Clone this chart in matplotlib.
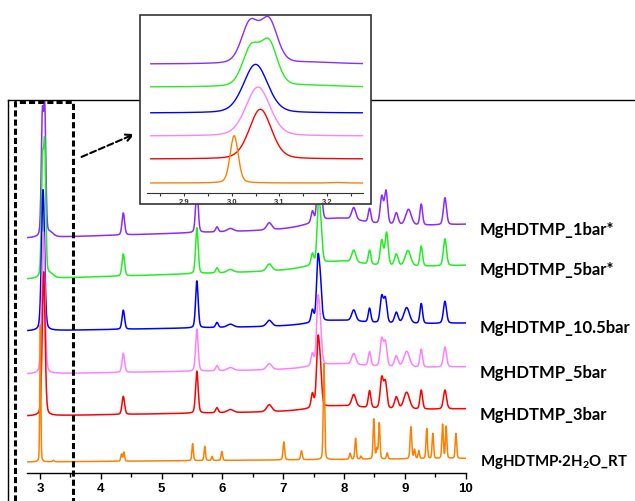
import numpy as np
import matplotlib
matplotlib.use('Agg')
import matplotlib.pyplot as plt
from matplotlib.lines import Line2D
from matplotlib.patches import Rectangle, FancyArrowPatch

# series names and colours (top to bottom)
labels = ['MgHDTMP_1bar*', 'MgHDTMP_5bar*', 'MgHDTMP_10.5bar',
          'MgHDTMP_5bar', 'MgHDTMP_3bar', 'MgHDTMP\u00b72H$_2$O_RT']
colors = ['#8A2BFF', '#22EE22', '#0000FF', '#FF80FF', '#FF0000', '#FF8000']

# vertical offset of each trace (baseline at 2.8) and baseline drift per unit
offsets = [235, 194, 142, 99, 57, 11]
slopes = [1.9, 1.9, 1.1, 1.0, 1.0, 0.5]

# peak tables: position, height, fwhm
pk_1bar_pos = [3.038, 3.078, 3.17, 4.37, 5.58, 5.91, 6.13, 6.77, 7.48, 7.58, 7.62, 7.9,
               8.16, 8.42, 8.62, 8.69, 8.86, 9.06, 9.27, 9.66]
pk_1bar_h = [115, 122, 4, 22, 46, 5, 3, 7, 11, 60, 30, 10,
             12, 14, 27, 33, 12, 16, 21, 27]
pk_1bar_w = [0.042, 0.042, 0.12, 0.05, 0.05, 0.05, 0.12, 0.1, 0.05, 0.055, 0.055, 1.0,
             0.08, 0.05, 0.06, 0.06, 0.07, 0.11, 0.05, 0.06]

pk_5bar_pos = [3.04, 3.078, 3.17, 4.37, 5.58, 5.91, 6.13, 6.77, 7.48, 7.58, 7.62, 7.9,
               8.16, 8.42, 8.62, 8.70, 8.86, 9.05, 9.27, 9.66]
pk_5bar_h = [108, 124, 4, 22, 46, 5, 3, 7, 11, 60, 30, 8,
             12, 14, 25, 33, 12, 16, 20, 27]
pk_5bar_w = [0.042, 0.042, 0.12, 0.05, 0.05, 0.05, 0.12, 0.1, 0.05, 0.055, 0.055, 1.0,
             0.08, 0.05, 0.06, 0.06, 0.07, 0.11, 0.05, 0.06]

pk_10bar_pos = [3.05, 4.37, 5.58, 5.91, 6.13, 6.77, 7.48, 7.57, 7.61, 7.9,
                8.16, 8.42, 8.62, 8.68, 8.86, 9.03, 9.27, 9.66]
pk_10bar_h = [141, 19, 47, 5, 3, 6, 12, 58, 35, 5,
              11, 14, 26, 24, 11, 16, 20, 22]
pk_10bar_w = [0.06, 0.05, 0.05, 0.05, 0.12, 0.1, 0.05, 0.055, 0.055, 1.0,
              0.08, 0.05, 0.06, 0.06, 0.07, 0.11, 0.05, 0.06]

pk_5b_pos = [3.055, 4.37, 5.58, 5.91, 6.13, 6.77, 7.48, 7.57, 7.61, 7.9,
             8.16, 8.42, 8.62, 8.68, 8.86, 9.03, 9.27, 9.66]
pk_5b_h = [142, 19, 42, 5, 3, 6, 12, 60, 35, 5,
           11, 14, 27, 24, 11, 16, 18, 20]
pk_5b_w = [0.06, 0.05, 0.05, 0.05, 0.12, 0.1, 0.05, 0.055, 0.055, 1.0,
           0.08, 0.05, 0.06, 0.06, 0.07, 0.11, 0.05, 0.06]

pk_3bar_pos = [3.06, 4.37, 5.58, 5.91, 6.13, 6.77, 7.48, 7.57, 7.61, 7.9,
               8.16, 8.42, 8.62, 8.68, 8.86, 9.03, 9.27, 9.66]
pk_3bar_h = [144, 18, 42, 5, 3, 7, 14, 62, 35, 5,
             12, 17, 30, 26, 12, 17, 19, 19]
pk_3bar_w = [0.055, 0.05, 0.05, 0.05, 0.12, 0.1, 0.05, 0.055, 0.055, 1.0,
             0.08, 0.05, 0.06, 0.06, 0.07, 0.11, 0.05, 0.06]

pk_rt_pos = [3.005, 3.22, 4.34, 4.38, 5.51, 5.71, 5.83, 5.99, 7.01, 7.30, 7.67,
             8.10, 8.19, 8.28, 8.49, 8.54, 8.58, 8.71, 9.10, 9.16, 9.23, 9.36,
             9.46, 9.62, 9.68, 9.84]
pk_rt_h = [137, 1.5, 7, 9, 17, 14, 4, 9, 18, 9, 96,
           6, 21, 3, 40, 10, 36, 6, 32, 9, 8, 30,
           25, 34, 32, 25]
pk_rt_w = [0.02, 0.03, 0.028, 0.028, 0.028, 0.028, 0.025, 0.028, 0.032, 0.032, 0.028,
           0.03, 0.028, 0.028, 0.028, 0.028, 0.028, 0.028, 0.032, 0.028, 0.028, 0.028,
           0.028, 0.028, 0.028, 0.028]

peaks = [(pk_1bar_pos, pk_1bar_h, pk_1bar_w),
         (pk_5bar_pos, pk_5bar_h, pk_5bar_w),
         (pk_10bar_pos, pk_10bar_h, pk_10bar_w),
         (pk_5b_pos, pk_5b_h, pk_5b_w),
         (pk_3bar_pos, pk_3bar_h, pk_3bar_w),
         (pk_rt_pos, pk_rt_h, pk_rt_w)]

# inset offsets
inset_offsets = [129, 106, 80, 57, 34, 10]
inset_scale = 0.345


def profile(x, pos, h, w, eta=0.25):
    y = np.zeros_like(x)
    for p, a, fw in zip(pos, h, w):
        s = fw / 2.3548
        g = np.exp(-(x - p) ** 2 / (2 * s ** 2))
        l = 1.0 / (1 + ((x - p) / (fw / 2)) ** 2)
        y += a * ((1 - eta) * g + eta * l)
    return y


plt.rcParams['font.family'] = ['Liberation Sans', 'DejaVu Sans']
plt.rcParams['mathtext.fontset'] = 'custom'
plt.rcParams['mathtext.rm'] = 'Lato:bold'
plt.rcParams['mathtext.it'] = 'Lato:bold'
plt.rcParams['mathtext.bf'] = 'Lato:bold'

fig = plt.figure(figsize=(6.35, 5.01), dpi=100)

ax = fig.add_axes([27 / 635, 28 / 501, 439 / 635, 373 / 501])
x = np.linspace(2.8, 10.0, 4000)
for i in range(6):
    pos, h, w = peaks[i]
    y = offsets[i] + slopes[i] * (x - 2.8) + profile(x, pos, h, w)
    ax.plot(x, y, color=colors[i], lw=1.1)
ax.set_xlim(2.786, 10.006)
ax.set_ylim(0, 373)
for s in ['left', 'right', 'top']:
    ax.spines[s].set_visible(False)
ax.spines['bottom'].set_linewidth(1.0)
ax.set_yticks([])
ax.set_xticks(range(3, 11))
ax.set_xticks(np.arange(3.5, 10, 1.0), minor=True)
ax.tick_params(axis='x', which='major', length=4, width=1, pad=3)
ax.tick_params(axis='x', which='minor', length=3, width=1)
for t in ax.get_xticklabels():
    t.set_fontweight('bold')
    t.set_fontsize(9.5)
ax.patch.set_alpha(0)

# labels on right
label_y = [230, 270, 328, 373, 415, 462]
label_size = [12, 12, 12, 12, 12, 10.8]
for lab, ly, fs in zip(labels, label_y, label_size):
    fig.text(480 / 635, 1 - ly / 501, lab, fontsize=fs, fontweight='bold',
             va='center', ha='left', family=['Lato', 'DejaVu Sans'])

# outer frame lines
fig.add_artist(Line2D([8 / 635, 8 / 635], [0, 401 / 501], color='black', lw=1.0))
fig.add_artist(Line2D([8 / 635, 1.0], [401 / 501, 401 / 501], color='black', lw=1.0))

# dashed selection box
x0, x1, yt = 15 / 635, 73 / 635, 1 - 102 / 501
fig.add_artist(Line2D([x0, x0, x1, x1], [0, yt, yt, 0], color='black', lw=2.2,
                      linestyle=(0, (2, 1))))
fig.add_artist(FancyArrowPatch((79 / 635, 1 - 158 / 501), (137 / 635, 1 - 133 / 501),
                               transform=fig.transFigure, arrowstyle='->',
                               mutation_scale=12, color='black', lw=1.5,
                               linestyle=(0, (3, 1.5))))

# inset frame
frame = Rectangle((140 / 635, 1 - 204 / 501), 231 / 635, 189 / 501,
                  transform=fig.transFigure, facecolor='white', edgecolor='#333333',
                  lw=1.2, zorder=3)
fig.add_artist(frame)

axi = fig.add_axes([147 / 635, 1 - 193 / 501, 216 / 635, 178 / 501])
axi.set_zorder(4)
axi.patch.set_alpha(0)
xi = np.linspace(2.83, 3.28, 1000)
for i in range(6):
    pos, h, w = peaks[i]
    yi = inset_offsets[i] + inset_scale * profile(xi, pos, h, w)
    axi.plot(xi, yi, color=colors[i], lw=1.0)
axi.set_xlim(2.822, 3.2755)
axi.set_ylim(0, 178)
for s in ['left', 'right', 'top']:
    axi.spines[s].set_visible(False)
axi.spines['bottom'].set_color('#333333')
axi.set_yticks([])
axi.set_xticks([2.9, 3.0, 3.1, 3.2])
axi.set_xticklabels(['2.9', '3.0', '3.1', '3.2'])
axi.set_xticks(np.arange(2.85, 3.28, 0.1), minor=True)
axi.tick_params(axis='x', which='both', length=2.5, width=0.8, pad=1.5,
                labelsize=5.5, colors='#333333')
for t in axi.get_xticklabels():
    t.set_fontweight('bold')

fig.savefig('out.png', dpi=100)
